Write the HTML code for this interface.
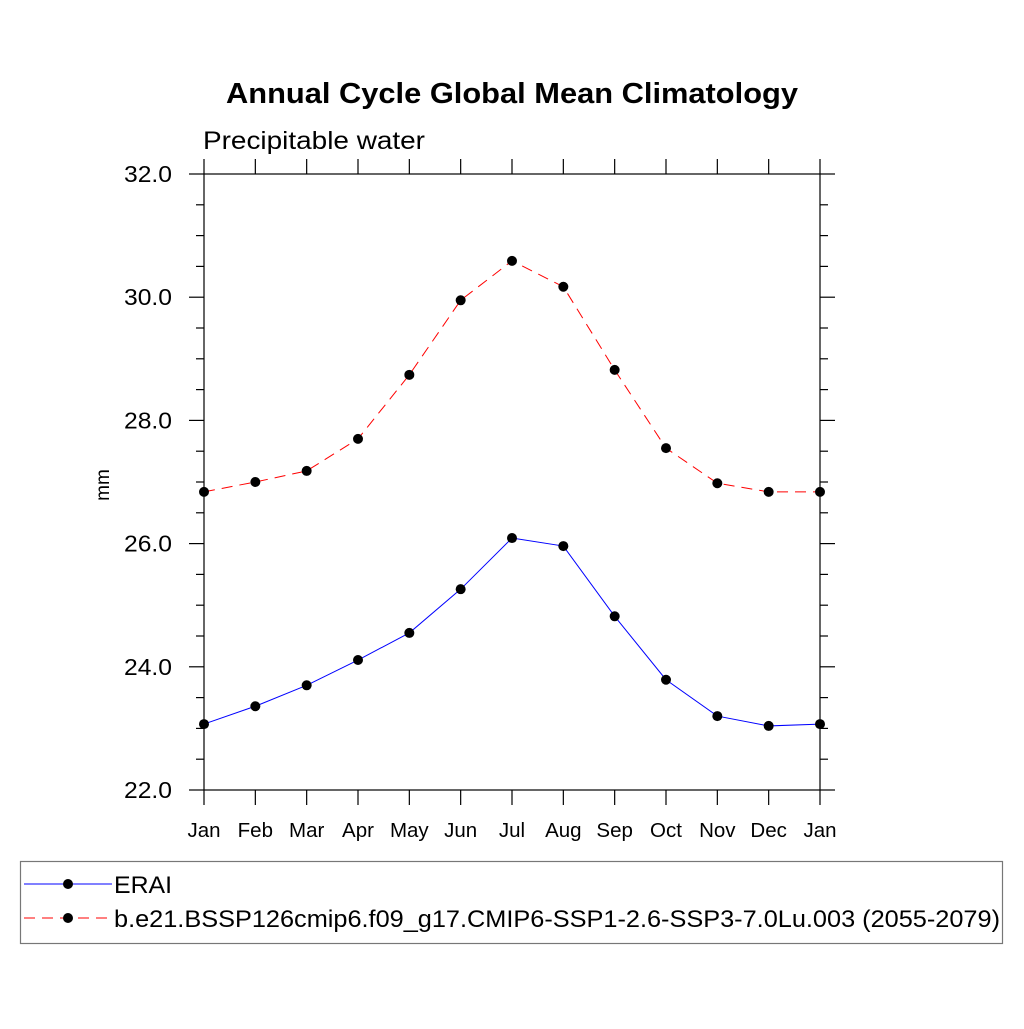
<!DOCTYPE html>
<html><head><meta charset="utf-8"><style>
body{margin:0;background:#fff}
svg text{font-family:"Liberation Sans",sans-serif;fill:#000}
</style></head><body>
<svg width="1024" height="1024" viewBox="0 0 1024 1024">
<text x="226" y="103" textLength="572" lengthAdjust="spacingAndGlyphs" font-size="29" font-weight="bold">Annual Cycle Global Mean Climatology</text>
<text x="203" y="149" textLength="222" lengthAdjust="spacingAndGlyphs" font-size="25">Precipitable water</text>
<text transform="translate(109,485) rotate(-90)" text-anchor="middle" font-size="19">mm</text>
<g id="axes"></g>
<g id="series"></g>
<rect x="20.5" y="861.5" width="982" height="82" fill="none" stroke="#777" stroke-width="1.2"/>
<g>
<line x1="24" y1="884" x2="112" y2="884" stroke="#00f" stroke-width="1"/>
<circle cx="68" cy="884" r="5" fill="#000"/>
<text x="114" y="893" textLength="58" lengthAdjust="spacingAndGlyphs" font-size="24">ERAI</text></g>
<g>
<line x1="24" y1="918" x2="112" y2="918" stroke="#f00" stroke-width="1" stroke-dasharray="11,7"/>
<circle cx="68" cy="918" r="5" fill="#000"/>
<text x="114" y="927" textLength="886" lengthAdjust="spacingAndGlyphs" font-size="24">b.e21.BSSP126cmip6.f09_g17.CMIP6-SSP1-2.6-SSP3-7.0Lu.003 (2055-2079)</text></g>
</svg>
<script>
const months=["Jan","Feb","Mar","Apr","May","Jun","Jul","Aug","Sep","Oct","Nov","Dec","Jan"];
const eraiValues=[23.07,23.36,23.70,24.11,24.55,25.26,26.09,25.96,24.82,23.79,23.20,23.04,23.07];
const cmipValues=[26.84,27.00,27.18,27.70,28.74,29.95,30.59,30.17,28.82,27.55,26.98,26.84,26.84];
const yTicks=[22,24,26,28,30,32];
const yTickLabels=["22.0","24.0","26.0","28.0","30.0","32.0"];
const NS="http://www.w3.org/2000/svg";
const X0=204,X1=820,Y0=790,Y1=174,YMIN=22,YMAX=32;
function xs(i){return X0+(X1-X0)*i/(months.length-1);}
function ys(v){return Y0-(v-YMIN)/(YMAX-YMIN)*(Y0-Y1);}
function mk(tag,attrs,parent){const e=document.createElementNS(NS,tag);for(const k in attrs)e.setAttribute(k,attrs[k]);parent.appendChild(e);return e;}
const ax=document.getElementById('axes');
const frame=mk('rect',{x:X0,y:Y1,width:X1-X0,height:Y0-Y1,fill:'none',stroke:'#000','stroke-width':1.2},ax);


months.forEach((m,i)=>{const x=xs(i);
 mk('line',{x1:x,y1:Y0,x2:x,y2:Y0+15,stroke:'#000','stroke-width':1.2},ax);
 mk('line',{x1:x,y1:Y1,x2:x,y2:Y1-15,stroke:'#000','stroke-width':1.2},ax);
 const t=mk('text',{x:x,y:837,'text-anchor':'middle','font-size':20.5},ax);t.textContent=m;
 
 
});
for(let v=YMIN;v<=YMAX+1e-9;v+=0.5){const y=ys(v);const maj=Math.abs(v-Math.round(v/2)*2)<1e-9;const L=maj?15:8;
 mk('line',{x1:X0-L,y1:y,x2:X0,y2:y,stroke:'#000','stroke-width':1.2},ax);
 mk('line',{x1:X1,y1:y,x2:X1+L,y2:y,stroke:'#000','stroke-width':1.2},ax);}
yTicks.forEach((v,i)=>{const t=mk('text',{x:124,y:ys(v)+8,textLength:48,lengthAdjust:'spacingAndGlyphs','font-size':23},ax);t.textContent=yTickLabels[i];
 
 });
const sg=document.getElementById('series');
function draw(vals,color,dash,name){
 const pl=mk('polyline',{points:vals.map((v,i)=>xs(i)+','+ys(v)).join(' '),fill:'none',stroke:color,'stroke-width':1,'stroke-dasharray':dash},sg);
 
 
 vals.forEach((v,i)=>{const c=mk('circle',{cx:xs(i),cy:ys(v),r:5,fill:'#000'},sg);
  
  });
}
draw(cmipValues,'#f00','11,7','cmip6');
draw(eraiValues,'#00f','none','erai');
</script>
</body></html>
